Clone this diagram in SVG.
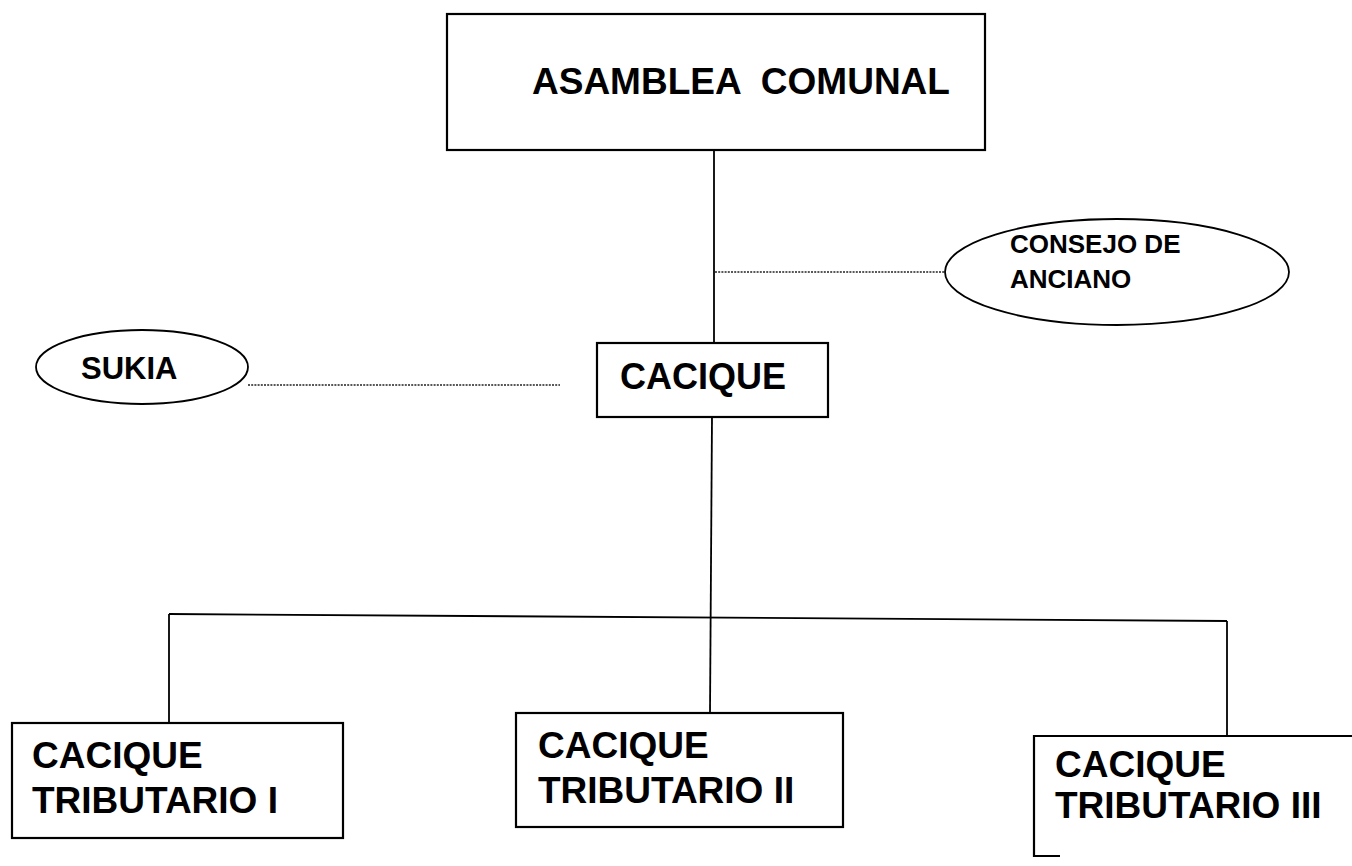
<svg xmlns="http://www.w3.org/2000/svg" width="1352" height="866" viewBox="0 0 1352 866">
<style>
.box{fill:#fff;stroke:#000;stroke-width:2.2}
.ell{fill:#fff;stroke:#000;stroke-width:1.8}
.ln{fill:none;stroke:#000;stroke-width:1.8}
.dot{fill:none;stroke:#222;stroke-width:1.6;stroke-dasharray:2 1.2}
.t{font-family:"Liberation Sans",Arial,sans-serif;font-weight:bold;fill:#000}
</style>
<rect width="1352" height="866" fill="#fff"/>
<g id="connectors">
<line class="ln" x1="714" y1="150" x2="714" y2="343"/>
<line class="dot" x1="715" y1="272" x2="945" y2="272"/>
<line class="dot" x1="248" y1="385" x2="560" y2="385"/>
<line class="ln" x1="712" y1="417" x2="710" y2="713"/>
<line class="ln" x1="169" y1="614" x2="1227" y2="621"/>
<line class="ln" x1="169" y1="614" x2="169" y2="723"/>
<line class="ln" x1="1227" y1="621" x2="1227" y2="736"/>
</g>
<g id="asamblea">
<rect class="box" x="447" y="14" width="538" height="136"/>
<text class="t" x="532" y="94" font-size="37" xml:space="preserve">ASAMBLEA  COMUNAL</text>
</g>
<g id="consejo">
<ellipse class="ell" cx="1117" cy="272" rx="172" ry="53"/>
<text class="t" x="1010" y="253" font-size="26">CONSEJO DE</text>
<text class="t" x="1010" y="288" font-size="26">ANCIANO</text>
</g>
<g id="sukia">
<ellipse class="ell" cx="142" cy="367" rx="106" ry="37"/>
<text class="t" x="81" y="379" font-size="31">SUKIA</text>
</g>
<g id="cacique">
<rect class="box" x="597" y="343" width="231" height="74"/>
<text class="t" x="620" y="389" font-size="36">CACIQUE</text>
</g>
<g id="tributario1">
<rect class="box" x="12" y="723" width="331" height="115"/>
<text class="t" x="32" y="768" font-size="37">CACIQUE</text>
<text class="t" x="32" y="813" font-size="37">TRIBUTARIO I</text>
</g>
<g id="tributario2">
<rect class="box" x="516" y="713" width="327" height="114"/>
<text class="t" x="538" y="758" font-size="37">CACIQUE</text>
<text class="t" x="538" y="803" font-size="37">TRIBUTARIO II</text>
</g>
<g id="tributario3">
<path class="box" d="M1360 736 H1034 V856 H1060"/>
<text class="t" x="1055" y="777" font-size="37">CACIQUE</text>
<text class="t" x="1055" y="818" font-size="37">TRIBUTARIO III</text>
</g>
</svg>
